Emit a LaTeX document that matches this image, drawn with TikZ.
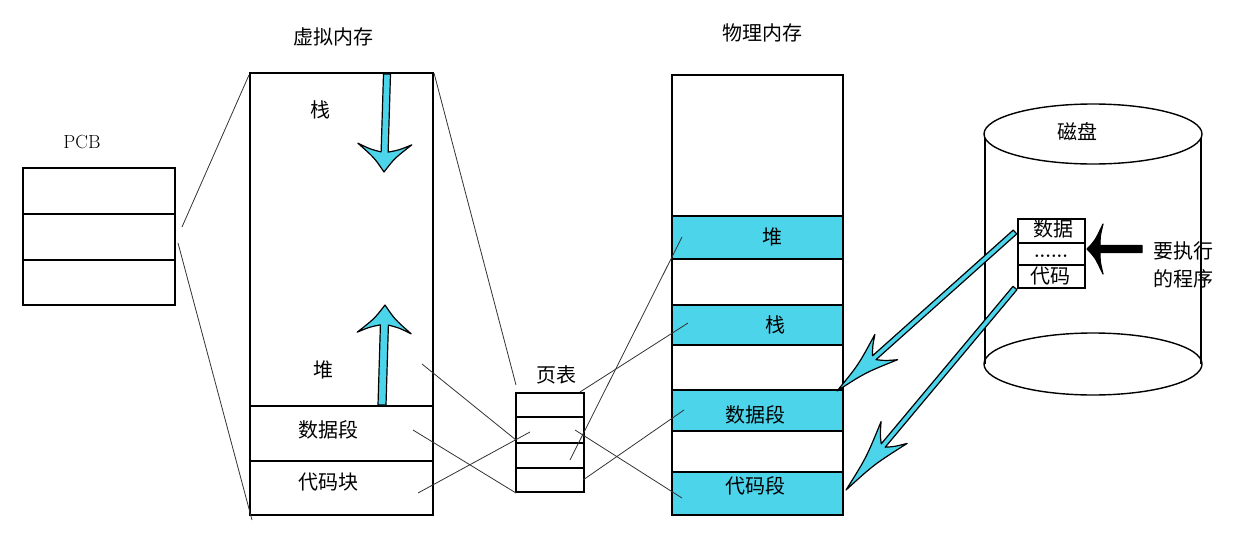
\documentclass[tikz,border=0pt]{standalone}
\usepackage{fontspec}
\newfontfamily\cjk{Noto Sans CJK SC}
\usetikzlibrary{calc}
\definecolor{cyanfill}{RGB}{76,212,235}
% #1 tail #2 tip #3 shaft half width #4 head half width #5 head length #6 notch depth #7 fill #8 concavity
\newcommand{\fatarrow}[8]{%
 \coordinate (fa-T) at #2; \coordinate (fa-S) at #1;
 \coordinate (fa-W) at ($(fa-T)!#5pt!(fa-S)$);
 \coordinate (fa-N) at ($(fa-T)!#6pt!(fa-S)$);
 \coordinate (fa-L) at ($(fa-W)!#4pt!90:(fa-S)$);
 \coordinate (fa-R) at ($(fa-W)!#4pt!-90:(fa-S)$);
 \coordinate (fa-N1) at ($(fa-N)!#3pt!90:(fa-S)$);
 \coordinate (fa-N2) at ($(fa-N)!#3pt!-90:(fa-S)$);
 \coordinate (fa-S1) at ($(fa-S)!#3pt!-90:(fa-N)$);
 \coordinate (fa-S2) at ($(fa-S)!#3pt!90:(fa-N)$);
 \coordinate (fa-C) at ($(fa-T)!0.5!(fa-W)$);
 \coordinate (fa-CLm) at ($(fa-T)!0.5!(fa-L)$);
 \coordinate (fa-CRm) at ($(fa-T)!0.5!(fa-R)$);
 \coordinate (fa-CL) at ($(fa-CLm)!#8!(fa-C)$);
 \coordinate (fa-CR) at ($(fa-CRm)!#8!(fa-C)$);
 \coordinate (fa-ML) at ($(fa-N1)!0.5!(fa-L)$);
 \coordinate (fa-MR) at ($(fa-N2)!0.5!(fa-R)$);
 \coordinate (fa-KL) at ($(fa-ML)!2pt!(fa-T)$);
 \coordinate (fa-KR) at ($(fa-MR)!2pt!(fa-T)$);
 \filldraw[fill=#7, draw=black, line width=1.2pt, line join=round]
   (fa-S1) -- (fa-N1) .. controls (fa-KL) .. (fa-L) .. controls (fa-CL) .. (fa-T)
   .. controls (fa-CR) .. (fa-R) .. controls (fa-KR) .. (fa-N2) -- (fa-S2) -- cycle;
}
\tikzset{
  box/.style={draw, line width=1.6pt, inner sep=0pt, outer sep=0pt},
  thin/.style={draw=black!80, line width=0.8pt},
  divider/.style={line width=1.6pt},
  thickdiv/.style={line width=2.8pt},
  lab/.style={font=\cjk\fontsize{20}{22}\selectfont, inner sep=0pt},
  title/.style={font=\cjk\fontsize{20}{22}\selectfont, inner sep=0pt},
}
\begin{document}
\begin{tikzpicture}[x=1pt,y=-1pt]
\useasboundingbox (0,0) rectangle (1236,533);
\fill[white] (0,0) rectangle (1236,533);

% PCB
\node[font=\fontsize{19}{22}\selectfont, inner sep=0pt] (pcbt) at (82,142) {PCB};
\node[box, minimum width=152pt, minimum height=137pt] (pcb) at (99,236.5) {};
\draw[divider] (pcb.west |- 0,214) -- (pcb.east |- 0,214);
\draw[thickdiv] (pcb.west |- 0,260) -- (pcb.east |- 0,260);

% virtual memory
\node[title] (vmt) at (333,37) {虚拟内存};
\node[box, minimum width=183pt, minimum height=442pt] (vm) at (341.5,294) {};
\draw[thickdiv] (vm.west |- 0,406) -- (vm.east |- 0,406);
\draw[divider] (vm.west |- 0,461) -- (vm.east |- 0,461);
\node[lab] (vstack) at (320,110) {栈};
\node[lab] (vheap) at (323,370) {堆};
\node[lab] (vdata) at (328,430) {数据段};
\node[lab] (vcode) at (328,482) {代码块};
\fatarrow{(387,74)}{(384,172)}{3.5}{27}{28}{20}{cyanfill}{0.25}
\fatarrow{(382,405)}{(385,305)}{4}{27}{28}{20}{cyanfill}{0.25}

% page table
\node[title] (ptt) at (556,375) {页表};
\node[box, minimum width=68pt, minimum height=99pt] (pt) at (550,442.5) {};
\foreach \yy in {417,443,468} \draw[divider] (pt.west |- 0,\yy) -- (pt.east |- 0,\yy);

% physical memory
\node[title] (pmt) at (762,33) {物理内存};
\node[box, minimum width=171pt, minimum height=440pt] (pm) at (757.5,295) {};
\foreach \ya/\yb in {216/259,305/345,390/431,472/515}
  \fill[cyanfill] (pm.west |- 0,\ya) rectangle (pm.east |- 0,\yb);
\node[box, minimum width=171pt, minimum height=440pt] at (757.5,295) {};
\foreach \yy in {216,259,305,345,390,431,472} \draw[thickdiv] (pm.west |- 0,\yy) -- (pm.east |- 0,\yy);
\node[lab] (pheap) at (772,237) {堆};
\node[lab] (pstack) at (775,325) {栈};
\node[lab] (pdata) at (755,415) {数据段};
\node[lab] (pcode) at (755,486) {代码段};

% connectors
\coordinate (c1a) at (182,227); \coordinate (c1b) at (249,75);
\coordinate (c2a) at (178,243); \coordinate (c2b) at (252,520);
\coordinate (c3a) at (434,73);  \coordinate (c3b) at (516,385);
\coordinate (c4a) at (422,364); \coordinate (c4b) at (516,440);
\coordinate (c5a) at (413,430); \coordinate (c5b) at (516,493);
\coordinate (c6a) at (418,493); \coordinate (c6b) at (530,432);
\coordinate (c7a) at (580,392); \coordinate (c7b) at (688,323);
\coordinate (c8a) at (570,460); \coordinate (c8b) at (682,237);
\coordinate (c9a) at (575,430); \coordinate (c9b) at (682,498);
\coordinate (c10a) at (583,480); \coordinate (c10b) at (684,410);
\foreach \i in {1,...,10} \draw[thin] (c\i a) -- (c\i b);

% disk
\draw[line width=1.4pt] (985,134) -- (985,364);
\draw[line width=1.4pt] (1201,134) -- (1201,364);
\draw[line width=1.4pt, fill=white] (1093,134) ellipse [x radius=109pt, y radius=30pt];
\draw[line width=1.4pt] (1093,364) ellipse [x radius=109pt, y radius=31pt];
\node[title] (diskt) at (1077,132) {磁盘};
\node[box, line width=1.4pt, minimum width=67pt, minimum height=69pt] (db) at (1051.5,253.5) {};
\draw[divider] (db.west |- 0,243) -- (db.east |- 0,243);
\draw[divider] (db.west |- 0,265) -- (db.east |- 0,265);
\node[lab] (dd) at (1053,229) {数据};
\node[anchor=base, inner sep=0pt, font=\bfseries\fontsize{18}{20}\selectfont] (ddots) at (1051,257) {......};
\node[lab] (dc) at (1050,276) {代码};
\node[lab, align=center, font=\cjk\fontsize{20}{28}\selectfont] (prog) at (1183,265) {要执行\\的程序};
\fatarrow{(1142,249)}{(1087,249)}{3.5}{25}{16}{13}{black}{0.35}

% cyan arrows disk -> memory
\fatarrow{(1015,232)}{(837,391)}{2.6}{17}{66}{50}{cyanfill}{0.4}
\fatarrow{(1015,288)}{(846,490)}{2.6}{17}{75}{58}{cyanfill}{0.4}
\end{tikzpicture}
\end{document}
